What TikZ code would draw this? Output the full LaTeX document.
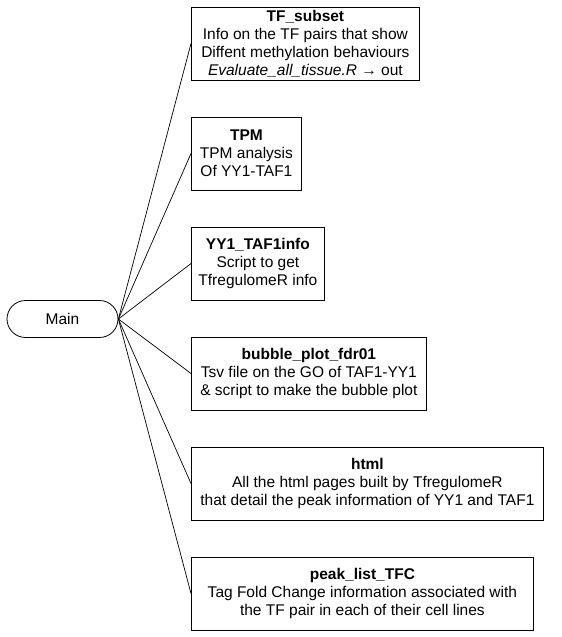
\documentclass[tikz,border=0pt]{standalone}
\usepackage{fontspec}
\setmainfont{Liberation Sans}
\usetikzlibrary{shapes.misc}

\begin{document}
\begin{tikzpicture}[x=1pt,y=-1pt,
  every node/.style={font=\fontsize{15.5}{18}\selectfont},
  root/.style={rounded rectangle,draw,line width=0.8pt,minimum width=111pt,minimum height=37pt,inner sep=0pt},
  leaf/.style={draw,line width=0.8pt,anchor=west,align=center,minimum height=73pt,inner xsep=4pt,inner ysep=0pt},
  link/.style={line width=0.7pt}]
  \useasboundingbox (0,0) rectangle (562,637);
  \node[root] (main) at (62.5,319) {Main};
  \node[leaf,minimum width=228pt] (tfsub) at (191,43.5) {\textbf{TF\_subset}\\Info on the TF pairs that show\\Diffent methylation behaviours\\\textit{Evaluate\_all\_tissue.R} → out};
  \node[leaf,minimum width=110pt] (tpm) at (191,153.5) {\textbf{TPM}\\TPM analysis\\Of YY1-TAF1};
  \node[leaf,minimum width=133pt] (yyinfo) at (191,263.5) {\textbf{YY1\_TAF1info}\\Script to get\\TfregulomeR info};
  \node[leaf,minimum width=235pt] (bubble) at (191,373.5) {\textbf{bubble\_plot\_fdr01}\\Tsv file on the GO of TAF1-YY1\\\& script to make the bubble plot};
  \node[leaf,minimum width=352pt] (html) at (191,483.5) {\textbf{html}\\All the html pages built by TfregulomeR\\that detail the peak information of YY1 and TAF1};
  \node[leaf,minimum width=342pt] (peaks) at (191,593.5) {\textbf{peak\_list\_TFC}\\Tag Fold Change information associated with\\the TF pair in each of their cell lines};
  \foreach \leafname in {tfsub,tpm,yyinfo,bubble,html,peaks}
    \draw[link] (main.east) -- (\leafname.west);
\end{tikzpicture}
\end{document}
